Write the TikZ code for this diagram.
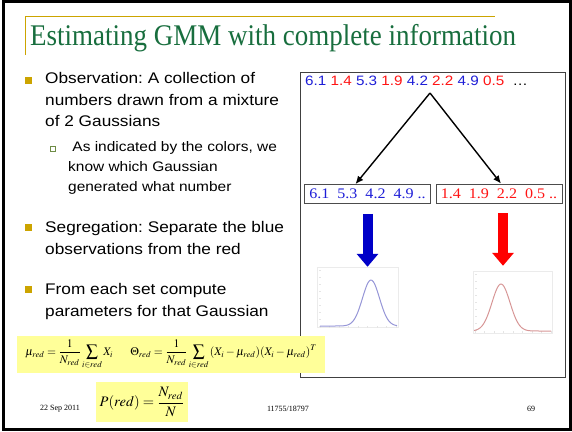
\documentclass[tikz,border=0pt]{standalone}
\usepackage{amsmath}
\usepackage{mathptmx}
\usepackage{fontspec}
\setmainfont{Liberation Serif}
\setsansfont{Liberation Sans}[FakeStretch=1.12]
\newfontfamily\titlefont{Liberation Serif}[FakeStretch=0.9]
\newfontfamily\numfont{Liberation Serif}[FakeStretch=1.1]
\usepackage{xcolor}
\usetikzlibrary{arrows.meta,calc}
\definecolor{titlegreen}{RGB}{24,110,62}
\definecolor{gold}{RGB}{204,164,0}
\definecolor{subgreen}{RGB}{110,140,70}
\definecolor{obsblue}{RGB}{30,30,215}
\definecolor{obsred}{RGB}{255,20,20}
\definecolor{fatblue}{RGB}{0,0,200}
\definecolor{fatred}{RGB}{255,0,0}
\definecolor{hilite}{RGB}{255,255,153}
\definecolor{curveblue}{RGB}{150,150,215}
\definecolor{curvered}{RGB}{215,150,150}
\frenchspacing

\begin{document}
\begin{tikzpicture}[x=1pt, y=-1pt,
  item/.style={anchor=north west, inner sep=0, align=left, font=\sffamily\fontsize{15.4}{21.5}\selectfont},
  subitem/.style={anchor=north west, inner sep=0, align=left, font=\sffamily\fontsize{13.8}{20}\selectfont},
  bullet/.style={fill=gold, inner sep=0, minimum size=7pt},
  subbullet/.style={draw=subgreen, line width=0.7pt, inner sep=0, minimum size=5pt},
  setbox/.style={draw=black!70, line width=0.8pt, minimum width=126pt, minimum height=19pt, inner sep=0, font=\numfont\fontsize{14.6}{15}\selectfont},
  plotbox/.style={draw=black!8, inner sep=0},
  fat/.style={line width=10pt, -{Triangle[width=21pt,length=13pt]}},
  split/.style={line width=1.4pt, -{Latex[length=8pt,width=7pt]}},
  formula/.style={fill=hilite, inner sep=0},
  footer/.style={font=\fontsize{8}{9}\selectfont, inner sep=0}]
\useasboundingbox (0,0) rectangle (572,431);
\draw[line width=3pt] (3,1.5) rectangle (570,429.5);
\draw[gold, line width=1pt] (25,55) -- (25,16) -- (495,16);
\node[anchor=base west, inner sep=0, text=titlegreen, font=\titlefont\fontsize{30}{30}\selectfont] (title) at (30,45) {Estimating GMM with complete information};

\node[bullet] (b1) at (28.5,80) {};
\node[item] (t1) at (45,72.5) {Observation: A collection of\\numbers drawn from a mixture\\of 2 Gaussians};
\node[subbullet] (b2) at (52.5,148.5) {};
\node[subitem] (t2) at (68,141) {\ As indicated by the colors, we\\know which Gaussian\\generated what number};
\node[bullet] (b3) at (28.5,227.5) {};
\node[item] (t3) at (45,221.5) {Segregation: Separate the blue\\observations from the red};
\node[bullet] (b4) at (28.5,289.5) {};
\node[item] (t4) at (45,283.5) {From each set compute\\parameters for that Gaussian};

\draw[draw=black!75, line width=0.9pt] (300,72) rectangle (565,377);
\node[anchor=base west, inner sep=0, font=\sffamily\fontsize{13.6}{14}\selectfont] (obs) at (305,85) {\textcolor{obsblue}{6.1} \textcolor{obsred}{1.4} \textcolor{obsblue}{5.3} \textcolor{obsred}{1.9} \textcolor{obsblue}{4.2} \textcolor{obsred}{2.2} \textcolor{obsblue}{4.9} \textcolor{obsred}{0.5}\ \ …};
\coordinate (apex) at (430,93);
\node[setbox, text=obsblue] (lbox) at (367.5,194) {6.1\ \ 5.3\ \ 4.2\ \ 4.9 ..};
\node[setbox, text=obsred] (rbox) at (499,193.5) {1.4\ \ 1.9\ \ 2.2\ \ 0.5 ..};
\path[split]
(apex) edge ([xshift=-12pt]lbox.north)
(apex) edge ([xshift=2pt]rbox.north);

\node[plotbox, minimum width=81pt, minimum height=60pt] (lplot) at (357.5,297) {};
\node[plotbox, minimum width=79pt, minimum height=62pt] (rplot) at (512.5,302) {};
\foreach \t in {0,...,8} {
  \draw[black!10] (319,{270+\t*7}) -- (321,{270+\t*7});
  \draw[black!10] (475,{274+\t*7}) -- (477,{274+\t*7});
  \draw[black!10] ({320+\t*9.5},326) -- ({320+\t*9.5},328);
  \draw[black!10] ({475+\t*9.5},331) -- ({475+\t*9.5},333);
}
\draw[curveblue, line width=1pt] plot[domain=320:397, samples=60] (\x, {326-46*exp(-((\x-371)/8.5)^2/2)});
\draw[curvered, line width=1pt] plot[domain=474:551, samples=60] (\x, {331-47*exp(-((\x-501)/9)^2/2)});
\draw[fat, draw=fatblue] ([yshift=-10pt]lbox.south) -- (lbox.south |- lplot.north);
\draw[fat, draw=fatred] ($(rbox.south)+(4,10)$) -- ($(rbox.south |- rplot.north)+(4,-5)$);

\node[formula, minimum width=308pt, minimum height=37pt, font=\fontsize{11.6}{13}\selectfont] (f1) at (171,354.5) {$\displaystyle \mu_{red}=\frac{1}{N_{red}}\sum_{i\in red}X_i \quad\ \ \Theta_{red}=\frac{1}{N_{red}}\sum_{i\in red}\left(X_i-\mu_{red}\right)\!\left(X_i-\mu_{red}\right)^T$};
\node[formula, minimum width=92pt, minimum height=40pt, font=\fontsize{14.5}{16}\selectfont] (f2) at (142,402) {$P(red)=\dfrac{N_{red}}{N}$};

\node[footer] (date) at (60,409) {22 Sep 2011};
\node[footer] (course) at (288,409) {11755/18797};
\node[footer] (page) at (531,409) {69};
\end{tikzpicture}
\end{document}
